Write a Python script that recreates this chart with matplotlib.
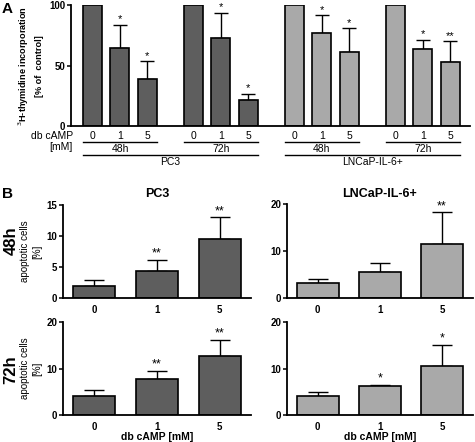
import numpy as np
import matplotlib
matplotlib.use("Agg")
import matplotlib.pyplot as plt
from matplotlib.transforms import blended_transform_factory

plt.rcParams["font.family"] = ["Liberation Sans", "DejaVu Sans"]

W, H = 475, 442

# panel A: 3H-thymidine incorporation (% of control)
a_doses = ["0", "1", "5"]
a_vals = [100, 65, 38.6, 100, 72.7, 21.5, 100, 76.9, 60.9, 100, 63.9, 53.1]
a_err = [0, 18.7, 15.1, 0, 21.0, 4.9, 0, 14.8, 20.1, 0, 7.7, 17.1]
a_stars = ["", "*", "*", "", "*", "*", "", "*", "*", "", "*", "**"]
a_times = ["48h", "72h", "48h", "72h"]
a_lines = ["PC3", "LNCaP-IL-6+"]

# panel B: apoptotic cells (%)
b_doses = ["0", "1", "5"]
b_pc3_48 = [1.9, 4.4, 9.5]
b_pc3_48_err = [0.95, 1.7, 3.5]
b_pc3_48_stars = ["", "**", "**"]
b_ln_48 = [3.1, 5.6, 11.4]
b_ln_48_err = [0.9, 1.9, 6.9]
b_ln_48_stars = ["", "", "**"]
b_pc3_72 = [4.15, 7.8, 12.7]
b_pc3_72_err = [1.35, 1.75, 3.5]
b_pc3_72_stars = ["", "**", "**"]
b_ln_72 = [4.1, 6.25, 10.6]
b_ln_72_err = [0.85, 0.3, 4.5]
b_ln_72_stars = ["", "*", "*"]

DARK = "#5e5e5e"
LIGHT = "#a9a9a9"


def px_axes(fig, x0, x1, ytop, ybot):
    return fig.add_axes([x0 / W, 1 - ybot / H, (x1 - x0) / W, (ybot - ytop) / H])


def style(ax):
    ax.spines["top"].set_visible(False)
    ax.spines["right"].set_visible(False)
    ax.spines["left"].set_linewidth(1.3)
    ax.spines["bottom"].set_linewidth(1.3)
    ax.tick_params(axis="y", length=3, width=1.1, pad=1, labelsize=7)
    for t in ax.get_yticklabels():
        t.set_fontweight("bold")


def bars(ax, x, vals, err, stars, colors, width, cap, star_off, star_size):
    ax.bar(x, vals, width=width, color=colors, edgecolor="black", linewidth=1.2, zorder=2)
    ax.errorbar(x, vals, yerr=[np.zeros(len(vals)), err], fmt="none", ecolor="black",
                elinewidth=1.0, capsize=cap, capthick=1.0, zorder=1)
    for xi, v, e, s in zip(x, vals, err, stars):
        if s:
            ax.text(xi, v + e + star_off, s, ha="center", va="bottom", fontsize=star_size)


fig = plt.figure(figsize=(W / 100, H / 100), dpi=100)

# ---------------- panel A ----------------
axA = px_axes(fig, 71, 470, 5.3, 126)
a_x = []
for g in range(4):
    for i in range(3):
        a_x.append(g * 3.67 + i)
a_x = np.array(a_x)
a_colors = [DARK] * 6 + [LIGHT] * 6
bars(axA, a_x, a_vals, a_err, a_stars, a_colors, 0.69, 5, 0.5, 8)
axA.set_xlim(-0.78, 13.73)
axA.set_ylim(0, 100)
axA.set_yticks([0, 50, 100])
axA.set_xticks([])
style(axA)
axA.set_ylabel("$^3$H-thymidine incorporation\n[% of  control]", fontsize=6.6,
               fontweight="bold", labelpad=4, linespacing=1.5)

tr = blended_transform_factory(axA.transData, fig.transFigure)
for xi, d in zip(a_x, a_doses * 4):
    axA.text(xi, 1 - 136 / H, d, transform=tr, ha="center", va="center", fontsize=7.5)
fig.text(73 / W, 1 - 136 / H, "db cAMP", ha="right", va="center", fontsize=7.5)
fig.text(73 / W, 1 - 147 / H, "[mM]", ha="right", va="center", fontsize=7.5)
for g, t in enumerate(a_times):
    x0, x1 = a_x[g * 3] - 0.345, a_x[g * 3 + 2] + 0.345
    axA.plot([x0, x1], [1 - 142.3 / H] * 2, transform=tr, color="black", lw=1.0, clip_on=False)
    axA.text((x0 + x1) / 2, 1 - 149.5 / H, t, transform=tr, ha="center", va="center", fontsize=7.5)
for c, name in enumerate(a_lines):
    x0, x1 = a_x[c * 6] - 0.345, a_x[c * 6 + 5] + 0.345
    axA.plot([x0, x1], [1 - 154.7 / H] * 2, transform=tr, color="black", lw=1.0, clip_on=False)
    axA.text((x0 + x1) / 2, 1 - 162 / H, name, transform=tr, ha="center", va="center", fontsize=7.5)

fig.text(2 / W, 1 - 9 / H, "A", fontsize=11, fontweight="bold", va="center")
fig.text(2 / W, 1 - 194 / H, "B", fontsize=11, fontweight="bold", va="center")

# ---------------- panel B ----------------
b_x = np.arange(3)
panels = [
    (63, 251, 205, 297.7, 15, [0, 5, 10, 15], b_pc3_48, b_pc3_48_err, b_pc3_48_stars, DARK),
    (286.7, 473, 204.3, 297.7, 20, [0, 10, 20], b_ln_48, b_ln_48_err, b_ln_48_stars, LIGHT),
    (63, 251, 322.3, 415, 20, [0, 10, 20], b_pc3_72, b_pc3_72_err, b_pc3_72_stars, DARK),
    (286.7, 473, 322.3, 415, 20, [0, 10, 20], b_ln_72, b_ln_72_err, b_ln_72_stars, LIGHT),
]
axes_b = []
for x0, x1, yt, yb, ymax, ticks, vals, err, stars, col in panels:
    ax = px_axes(fig, x0, x1, yt, yb)
    bars(ax, b_x, vals, err, stars, [col] * 3, 0.67, 7, ymax * 0.002, 9)
    ax.set_xlim(-0.5, 2.5)
    ax.set_ylim(0, ymax)
    ax.set_yticks(ticks)
    ax.set_xticks(b_x)
    ax.set_xticklabels(b_doses)
    style(ax)
    ax.tick_params(axis="x", length=0, pad=5, labelsize=7)
    for t in ax.get_xticklabels():
        t.set_fontweight("bold")
    axes_b.append(ax)

axes_b[0].set_title("PC3", fontsize=9, fontweight="bold", pad=6)
axes_b[1].set_title("LNCaP-IL-6+", fontsize=9, fontweight="bold", pad=5)
for ax in axes_b[2:]:
    ax.set_xlabel("db cAMP [mM]", fontsize=7.5, fontweight="bold", labelpad=0)
for ax in (axes_b[0], axes_b[2]):
    ax.set_ylabel("apoptotic cells\n[%]", fontsize=7, labelpad=3, linespacing=1.3)
fig.text(11 / W, 1 - 241 / H, "48h", rotation=90, fontsize=12, fontweight="bold",
         ha="center", va="center")
fig.text(11 / W, 1 - 370 / H, "72h", rotation=90, fontsize=12, fontweight="bold",
         ha="center", va="center")

fig.savefig("out.png", dpi=100)
